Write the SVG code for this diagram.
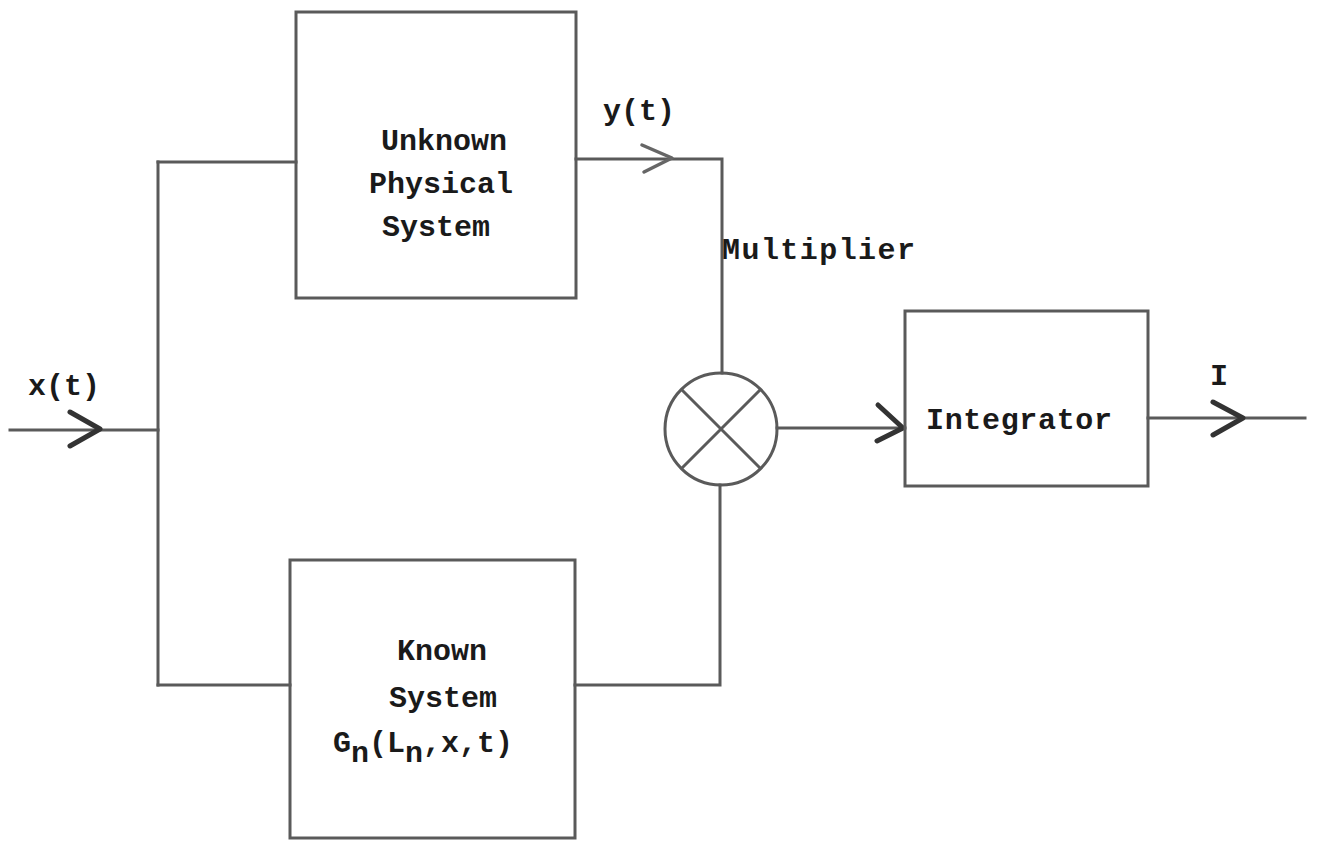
<svg xmlns="http://www.w3.org/2000/svg" width="1317" height="843" viewBox="0 0 1317 843">
<style>
.box{fill:none;stroke:#5a5a5a;stroke-width:3}
.wire{fill:none;stroke:#5a5a5a;stroke-width:3;stroke-linecap:square}
.head{fill:none;stroke:#333;stroke-width:5;stroke-linecap:round;stroke-linejoin:round}
.headl{fill:none;stroke:#666;stroke-width:3.5;stroke-linecap:round;stroke-linejoin:round}
text{font-family:"Liberation Mono","Courier New",monospace;font-size:30px;font-weight:bold;fill:#1a1a1a}
</style>
<rect width="1317" height="843" fill="#ffffff"/>
<g id="connectors">
<path class="wire" d="M10,430 H158"/>
<path class="wire" d="M158,162 V685"/>
<path class="wire" d="M158,162 H296"/>
<path class="wire" d="M158,685 H290"/>
<path class="wire" d="M576,159 H722 V373"/>
<path class="wire" d="M575,685 H720 V485"/>
<path class="wire" d="M777,428 H905"/>
<path class="wire" d="M1148,418 H1305"/>
<path class="head" d="M70,412 L100,429 L70,446"/>
<path class="headl" d="M642,145 L672,158 L644,172"/>
<path class="head" d="M878,405 L903,428 L877,441"/>
<path class="head" d="M1213,402 L1243,418 L1213,435"/>
</g>
<g id="unknown-system">
<rect class="box" x="296" y="12" width="280" height="286"/>
<text x="444" y="150" text-anchor="middle">Unknown</text>
<text x="441" y="193" text-anchor="middle">Physical</text>
<text x="436" y="236" text-anchor="middle">System</text>
</g>
<g id="known-system">
<rect class="box" x="290" y="560" width="285" height="278"/>
<text x="442" y="660" text-anchor="middle">Known</text>
<text x="443" y="707" text-anchor="middle">System</text>
<text x="333" y="752">G<tspan dy="10">n</tspan><tspan dy="-10">(L</tspan><tspan dy="10">n</tspan><tspan dy="-10">,x,t)</tspan></text>
</g>
<g id="multiplier">
<circle class="box" cx="721" cy="429" r="56"/>
<path class="box" d="M681,389 L761,469 M761,389 L681,469"/>
<text x="722" y="259" textLength="193" lengthAdjust="spacing">Multiplier</text>
</g>
<g id="integrator">
<rect class="box" x="905" y="311" width="243" height="175"/>
<text x="926" y="429" textLength="186" lengthAdjust="spacing">Integrator</text>
</g>
<g id="labels">
<text x="28" y="395">x(t)</text>
<text x="603" y="120">y(t)</text>
<text x="1210" y="385">I</text>
</g>
</svg>
